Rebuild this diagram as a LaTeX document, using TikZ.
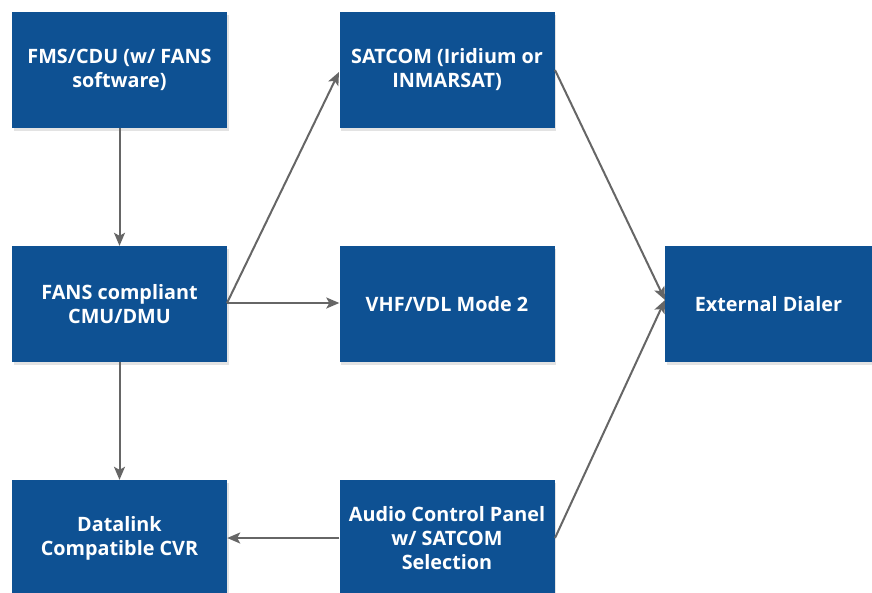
\documentclass[tikz,border=0pt]{standalone}
\usepackage{fontspec}
\setmainfont{Open Sans}
\usetikzlibrary{arrows.meta,shadows}
\definecolor{boxblue}{HTML}{0E5193}
\definecolor{arrowgray}{HTML}{666666}
\begin{document}
\begin{tikzpicture}[x=1pt,y=-1pt,
  box/.style={fill=boxblue, draw=none, text=white, minimum width=215pt, minimum height=116pt,
    align=center, font=\fontsize{19.8}{24}\selectfont\bfseries, inner sep=0pt,
    drop shadow={opacity=0.22, shadow xshift=1.5pt, shadow yshift=-2.5pt}},
  conn/.style={draw=arrowgray, line width=2pt, -{Stealth[length=13pt,width=11pt,inset=3pt]}}]
\useasboundingbox[fill=white] (0,0) rectangle (872,592);
\node[box] (fms) at (119.5,70) {FMS/CDU (w/ FANS\\software)};
\node[box] (sat) at (447,70) {SATCOM (Iridium or\\INMARSAT)};
\node[box] (fans) at (119.5,304) {FANS compliant\\CMU/DMU};
\node[box] (vhf) at (447,304) {VHF/VDL Mode 2};
\node[box, minimum width=207pt] (ext) at (768.5,304) {External Dialer};
\node[box] (dl) at (119.5,538) {Datalink\\Compatible CVR};
\node[box] (acp) at (447,538) {Audio Control Panel\\w/ SATCOM\\Selection};
\coordinate (fansE) at (227,303);
\coordinate (satW) at (339,72);
\coordinate (satE) at (555,70);
\coordinate (extW) at (665,300);
\coordinate (acpE) at (555,538);
\draw[conn] (fms) -- (fans);
\draw[conn] (fans) -- (dl);
\draw[conn] (fansE) -- (satW);
\draw[conn] (fansE) -- (vhf.west |- fansE);
\draw[conn] (satE) -- (extW);
\draw[conn] (acpE) -- (extW);
\draw[conn] (acp.west) -- (dl.east);
\end{tikzpicture}
\end{document}
